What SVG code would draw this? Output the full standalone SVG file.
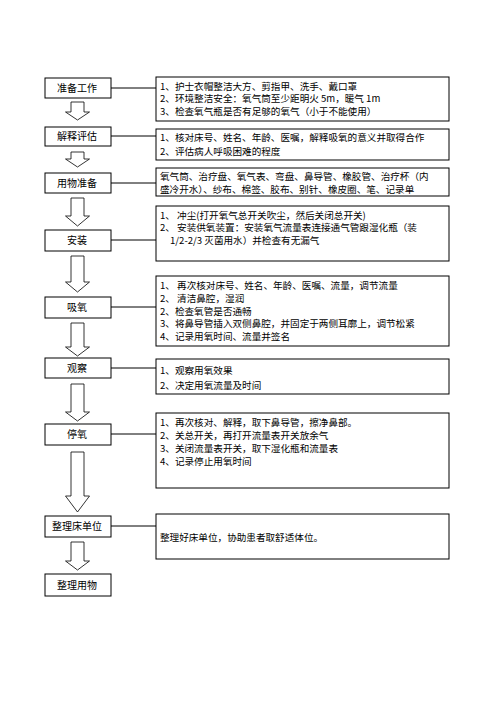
<svg xmlns="http://www.w3.org/2000/svg" width="496" height="702" viewBox="0 0 496 702">
<style>
.bx{fill:#fff;stroke:#000;stroke-width:1}
.tb{fill:#fff;stroke:#000;stroke-width:1}
.lbl{font-family:"Noto Sans CJK SC","Liberation Sans",sans-serif;font-size:10px;fill:#000;text-anchor:middle}
.t{font-family:"Noto Sans CJK SC","Liberation Sans",sans-serif;font-size:9.6px;fill:#000}
.ar{fill:#fff;stroke:#000;stroke-width:0.8}
.cn{stroke:#000;stroke-width:1;fill:none}
</style>
<rect width="496" height="702" fill="#fff"/>
<g id="connectors">
<line class="cn" x1="111" y1="88" x2="156" y2="88"/>
<line class="cn" x1="111" y1="136" x2="156" y2="136"/>
<line class="cn" x1="111" y1="183" x2="156" y2="183"/>
<line class="cn" x1="111" y1="240" x2="156" y2="240"/>
<line class="cn" x1="111" y1="307" x2="156" y2="307"/>
<line class="cn" x1="111" y1="368" x2="156" y2="368"/>
<line class="cn" x1="111" y1="434" x2="156" y2="434"/>
<line class="cn" x1="111" y1="526" x2="156" y2="526"/>
<polygon class="ar" points="71,102 84,102 84,112 89.5,112 77.5,120 65.5,112 71,112"/>
<polygon class="ar" points="71,152 84,152 84,159 89.5,159 77.5,167 65.5,159 71,159"/>
<polygon class="ar" points="71,198 84,198 84,216 89.5,216 77.5,226 65.5,216 71,216"/>
<polygon class="ar" points="71,256 84,256 84,282 89.5,282 77.5,292 65.5,282 71,282"/>
<polygon class="ar" points="71,323 84,323 84,347 89.5,347 77.5,356 65.5,347 71,347"/>
<polygon class="ar" points="71,384 84,384 84,412 89.5,412 77.5,421 65.5,412 71,412"/>
<polygon class="ar" points="71,452 84,452 84,496 89.5,496 77.5,512 65.5,496 71,496"/>
<polygon class="ar" points="71,542 84,542 84,561 89.5,561 77.5,570 65.5,561 71,561"/>
</g>
<g id="n1">
<rect class="bx" x="45" y="78" width="66" height="20"/>
<text class="lbl" x="77" y="91.5">准备工作</text>
<rect class="tb" x="156" y="77" width="293" height="44"/>
<text class="t" x="160" y="89.5">1、护士衣帽整洁大方、剪指甲、洗手、戴口罩</text>
<text class="t" x="160" y="102">2、环境整洁安全：氧气筒至少距明火 5m，暖气 1m</text>
<text class="t" x="160" y="114.5">3、检查氧气瓶是否有足够的氧气（小于不能使用）</text>
</g>
<g id="n2">
<rect class="bx" x="45" y="127" width="66" height="19"/>
<text class="lbl" x="77" y="140">解释评估</text>
<rect class="tb" x="156" y="129" width="293" height="31"/>
<text class="t" x="160" y="141">1、核对床号、姓名、年龄、医嘱，解释吸氧的意义并取得合作</text>
<text class="t" x="160" y="154.5">2、评估病人呼吸困难的程度</text>
</g>
<g id="n3">
<rect class="bx" x="45" y="173" width="66" height="20"/>
<text class="lbl" x="77" y="186.5">用物准备</text>
<rect class="tb" x="156" y="168" width="293" height="28"/>
<text class="t" x="160" y="179.5">氧气筒、治疗盘、氧气表、弯盘、鼻导管、橡胶管、治疗杯（内</text>
<text class="t" x="160" y="192.5">盛冷开水）、纱布、棉签、胶布、别针、橡皮圈、笔、记录单</text>
</g>
<g id="n4">
<rect class="bx" x="45" y="230" width="66" height="21"/>
<text class="lbl" x="77" y="244">安装</text>
<rect class="tb" x="156" y="206" width="293" height="55"/>
<text class="t" x="160" y="218.5">1、 冲尘(打开氧气总开关吹尘，然后关闭总开关)</text>
<text class="t" x="160" y="231">2、 安装供氧装置：安装氧气流量表连接通气管跟湿化瓶（装</text>
<text class="t" x="170" y="243.5">1/2-2/3 灭菌用水）并检查有无漏气</text>
</g>
<g id="n5">
<rect class="bx" x="45" y="297" width="66" height="21"/>
<text class="lbl" x="77" y="311">吸氧</text>
<rect class="tb" x="156" y="276" width="293" height="70"/>
<text class="t" x="160" y="288.5">1、 再次核对床号、姓名、年龄、医嘱、流量，调节流量</text>
<text class="t" x="160" y="301.5">2、 清洁鼻腔，湿润</text>
<text class="t" x="160" y="314.5">2、检查氧管是否通畅</text>
<text class="t" x="160" y="327">3、将鼻导管插入双侧鼻腔，并固定于两侧耳廓上，调节松紧</text>
<text class="t" x="160" y="340">4、记录用氧时间、流量并签名</text>
</g>
<g id="n6">
<rect class="bx" x="45" y="358" width="66" height="20"/>
<text class="lbl" x="77" y="371.5">观察</text>
<rect class="tb" x="156" y="359" width="293" height="35"/>
<text class="t" x="160" y="373.5">1、观察用氧效果</text>
<text class="t" x="160" y="388.5">2、决定用氧流量及时间</text>
</g>
<g id="n7">
<rect class="bx" x="45" y="424" width="66" height="21"/>
<text class="lbl" x="77" y="438">停氧</text>
<rect class="tb" x="156" y="413" width="293" height="75"/>
<text class="t" x="160" y="425.5">1、再次核对、解释，取下鼻导管，擦净鼻部。</text>
<text class="t" x="160" y="438.5">2、关总开关，再打开流量表开关放余气</text>
<text class="t" x="160" y="451.5">3、关闭流量表开关，取下湿化瓶和流量表</text>
<text class="t" x="160" y="464.5">4、记录停止用氧时间</text>
</g>
<g id="n8">
<rect class="bx" x="45" y="516" width="66" height="21"/>
<text class="lbl" x="77" y="530">整理床单位</text>
<rect class="tb" x="156" y="514" width="293" height="45"/>
<text class="t" x="160" y="540.5">整理好床单位，协助患者取舒适体位。</text>
</g>
<g id="n9">
<rect class="bx" x="45" y="574" width="66" height="22"/>
<text class="lbl" x="77" y="588.5">整理用物</text>
</g>
</svg>
